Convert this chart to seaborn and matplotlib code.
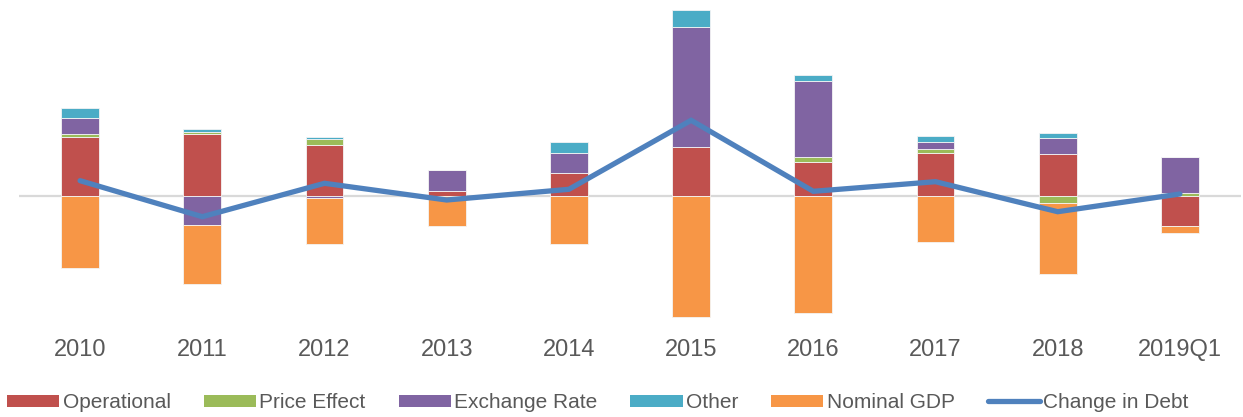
import numpy as np
import pandas as pd
import matplotlib.pyplot as plt
import seaborn as sns
from matplotlib.patches import Patch
from matplotlib.lines import Line2D

# decomposition of the change in debt (arbitrary units)
years = ['2010', '2011', '2012', '2013', '2014', '2015', '2016', '2017', '2018', '2019Q1']
operational = [59.3, 62.3, 51.0, 4.7, 22.7, 49.0, 34.0, 43.3, 41.7, -30.0]
price_effect = [2.7, 2.0, 6.0, 0.0, 0.0, 0.0, 4.7, 3.4, -7.0, 2.7]
exchange_rate = [16.3, -29.0, -1.5, 21.3, 20.7, 120.0, 76.7, 7.6, 16.6, 36.0]
other = [9.7, 2.7, 2.0, 0.0, 10.3, 16.7, 6.0, 6.0, 5.0, 0.0]
nominal_gdp = [-72.3, -58.7, -46.0, -29.7, -48.3, -121.0, -117.0, -46.3, -71.0, -7.3]
change_in_debt = [15.3, -20.7, 12.7, -4.0, 6.7, 75.7, 4.7, 14.3, -15.7, 2.0]

series = [
    ('Operational', operational, '#C0504D'),
    ('Price Effect', price_effect, '#9BBB59'),
    ('Exchange Rate', exchange_rate, '#8064A2'),
    ('Other', other, '#4BACC6'),
    ('Nominal GDP', nominal_gdp, '#F79646'),
]
line_color = '#4F81BD'
text_color = '#595959'

sns.set_style('white')
plt.rcParams['font.family'] = ['Liberation Sans', 'DejaVu Sans']

fig = plt.figure(figsize=(12.43, 4.17), dpi=100)
ax = fig.add_axes([19 / 1243, 92 / 417, 1222 / 1243, 320 / 417])

# stack positives upward and negatives downward, like Excel does
pos_base = np.zeros(len(years))
neg_base = np.zeros(len(years))
for name, vals, col in series:
    vals = np.array(vals, dtype=float)
    bottom = np.where(vals >= 0, pos_base, neg_base)
    df = pd.DataFrame({'year': years, 'value': vals})
    sns.barplot(data=df, x='year', y='value', color=col, bottom=bottom,
                width=0.31, saturation=1, edgecolor='#f4f4f4', linewidth=0.6,
                errorbar=None, ax=ax, zorder=2)
    pos_base = pos_base + np.clip(vals, 0, None)
    neg_base = neg_base + np.clip(vals, None, 0)

ax.axhline(0, color='#D9D9D9', lw=1.6, zorder=1)

sns.lineplot(x=np.arange(len(years)), y=change_in_debt, color=line_color,
             lw=3.8, ax=ax, zorder=4, solid_joinstyle='miter')

ax.set_xlim(-0.5, len(years) - 0.5)
ax.set_ylim(-129, 191)
ax.set_xlabel('')
ax.set_ylabel('')
ax.set_yticks([])
ax.set_xticks(range(len(years)))
ax.set_xticklabels(years, fontsize=17, color=text_color)
ax.tick_params(axis='x', length=0, pad=10)
for s in ax.spines.values():
    s.set_visible(False)

handles = [Patch(facecolor=c, edgecolor='none') for _, _, c in series]
handles.append(Line2D([0], [0], color=line_color, lw=3.8))
labels = [n for n, _, _ in series] + ['Change in Debt']
fig.legend(handles, labels, loc='center', bbox_to_anchor=(0.481, 0.034),
           ncol=6, frameon=False, fontsize=15, labelcolor=text_color,
           handlelength=2.5, handleheight=0.55, handletextpad=0.15,
           columnspacing=1.6, borderpad=0)

fig.savefig('out.png', dpi=100)
